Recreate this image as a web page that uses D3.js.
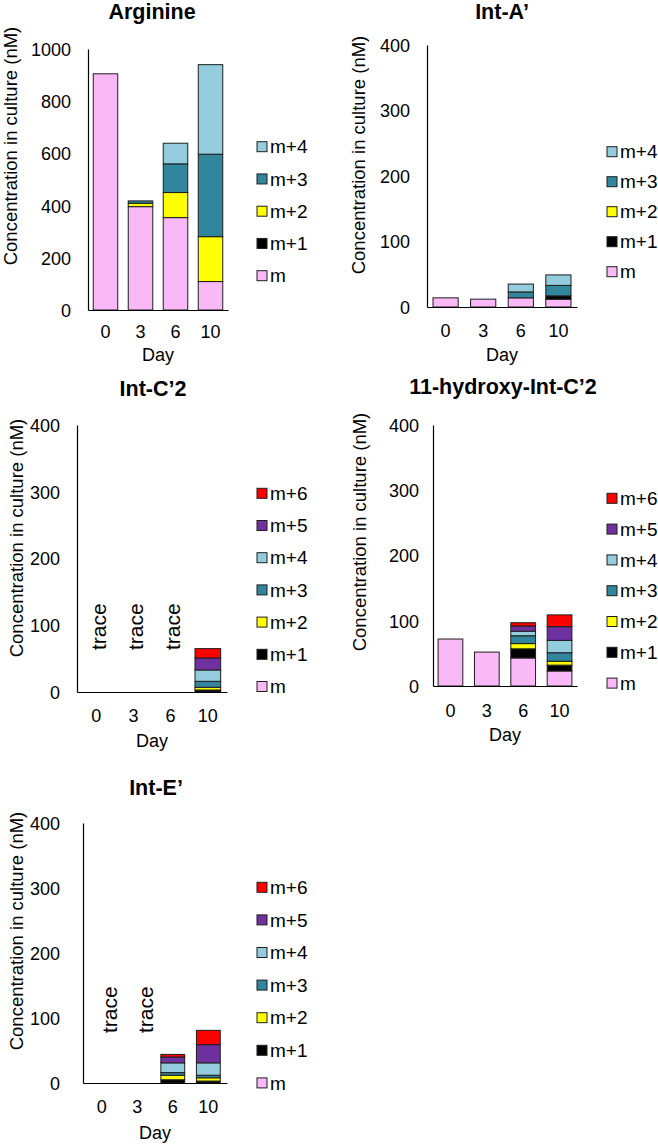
<!DOCTYPE html>
<html>
<head>
<meta charset="utf-8">
<script src="https://cdn.jsdelivr.net/npm/d3@7"></script>
<style>
  html, body { margin: 0; padding: 0; background: #fff; }
  svg { display: block; }
  text { font-family: "Liberation Sans", Arial, Helvetica, sans-serif; fill: #000; }
</style>
</head>
<body>
<svg id="chart" width="658" height="1145"></svg>
<script>
// ---------------- DATA ----------------
const titles = ["Arginine", "Int-A’", "Int-C’2", "11-hydroxy-Int-C’2", "Int-E’"];
const days = ["0", "3", "6", "10"];
const seriesNames = ["m", "m+1", "m+2", "m+3", "m+4", "m+5", "m+6"];
// rows = days, columns = isotopologues (m, m+1, m+2, ...)
const arginine = [
  [905, 0, 0, 0, 0],
  [396, 0, 13, 9, 0],
  [354, 0, 96, 110, 79],
  [109, 0, 172, 316, 343]
];
const intA = [
  [14, 0, 0, 0, 0],
  [12, 0, 0, 0, 0],
  [14, 0, 0, 9, 12],
  [12, 5, 0, 16, 16]
];
const intC2 = [
  [0, 0, 0, 0, 0, 0, 0],
  [0, 0, 0, 0, 0, 0, 0],
  [0, 0, 0, 0, 0, 0, 0],
  [0, 3, 4, 9, 17, 18, 14]
];
const hydroxyIntC2 = [
  [72, 0, 0, 0, 0, 0, 0],
  [52, 0, 0, 0, 0, 0, 0],
  [43, 14, 8, 12, 7, 8, 5],
  [23, 9, 6, 13, 19, 21, 18]
];
const intE = [
  [0, 0, 0, 0, 0, 0, 0],
  [0, 0, 0, 0, 0, 0, 0],
  [0, 5, 7, 4, 15, 9, 4],
  [0, 3, 5, 4, 19, 28, 22]
];
const traceIntC2 = ["0", "3", "6"];
const traceIntE = ["0", "3"];
const arginineTicks = [0, 200, 400, 600, 800, 1000];
const smallTicks = [0, 100, 200, 300, 400];
const yLabelText = "Concentration in culture (nM)";
const xLabelText = "Day";
const traceText = "trace";

// ---------------- STYLE / LAYOUT ----------------
const seriesColors = ["#F9B9F7", "#000000", "#FFFF00", "#31859C", "#93CDDD", "#7030A0", "#FF0000"];

const panels = [
  { data: arginine, title: titles[0], n: 5, ticks: arginineTicks, yMax: 1000, trace: [],
    x0: 88, x1: 228, yTop: 49, yBot: 310, pIn: 0.3, pOut: 0.15,
    titleX: 152, titleY: 19, tickPad: 17, xTickBase: 338, dayY: 361,
    yLabX: 11, yLabY: 146, legX: 257, legTop: 146.7, legStep: 32.25, traceDx: 0, traceUp: 0 },
  { data: intA, title: titles[1], n: 5, ticks: smallTicks, yMax: 400, trace: [],
    x0: 427, x1: 577, yTop: 45, yBot: 307, pIn: 0.33, pOut: 0.16,
    titleX: 502, titleY: 19, tickPad: 17, xTickBase: 337, dayY: 361,
    yLabX: 359, yLabY: 155, legX: 607, legTop: 151.7, legStep: 30, traceDx: 0, traceUp: 0 },
  { data: intC2, title: titles[2], n: 7, ticks: smallTicks, yMax: 400, trace: traceIntC2,
    x0: 77, x1: 227, yTop: 425, yBot: 692, pIn: 0.31, pOut: 0.17,
    titleX: 153, titleY: 396, tickPad: 17, xTickBase: 722, dayY: 747,
    yLabX: 17, yLabY: 538, legX: 257, legTop: 493.3, legStep: 32.2, traceDx: 4, traceUp: 42 },
  { data: hydroxyIntC2, title: titles[3], n: 7, ticks: smallTicks, yMax: 400, trace: [],
    x0: 433, x1: 577, yTop: 425, yBot: 686, pIn: 0.32, pOut: 0.14,
    titleX: 503, titleY: 394, tickPad: 14, xTickBase: 717, dayY: 741,
    yLabX: 360, yLabY: 532, legX: 607, legTop: 498.3, legStep: 30.8, traceDx: 0, traceUp: 0 },
  { data: intE, title: titles[4], n: 7, ticks: smallTicks, yMax: 400, trace: traceIntE,
    x0: 83, x1: 227, yTop: 823, yBot: 1083, pIn: 0.33, pOut: 0.19,
    titleX: 156, titleY: 795, tickPad: 23, xTickBase: 1113, dayY: 1139,
    yLabX: 17, yLabY: 931, legX: 257, legTop: 887.3, legStep: 32.6, traceDx: 10, traceUp: 50 }
];

const svg = d3.select("#chart");

panels.forEach(p => {
  const g = svg.append("g");
  const keys = seriesNames.slice(0, p.n);
  const rows = days.map((d, i) => {
    const r = { day: d };
    keys.forEach((k, j) => { r[k] = p.data[i][j] || 0; });
    return r;
  });
  const x = d3.scaleBand().domain(days).range([p.x0, p.x1])
    .paddingInner(p.pIn).paddingOuter(p.pOut);
  const y = d3.scaleLinear().domain([0, p.yMax]).range([p.yBot, p.yTop]);
  const stacked = d3.stack().keys(keys)(rows);

  // bars
  stacked.forEach((layer, li) => {
    g.append("g").selectAll("rect")
      .data(layer.filter(d => d[1] - d[0] > 0))
      .join("rect")
      .attr("x", d => x(d.data.day))
      .attr("width", x.bandwidth())
      .attr("y", d => y(d[1]))
      .attr("height", d => y(d[0]) - y(d[1]))
      .attr("fill", seriesColors[li])
      .attr("stroke", "#1e1e1e")
      .attr("stroke-width", 1);
  });

  // y axis
  const ya = g.append("g").attr("transform", `translate(${p.x0},0)`)
    .call(d3.axisLeft(y).tickValues(p.ticks).tickSize(0).tickPadding(p.tickPad).tickFormat(d3.format("d")));
  ya.select(".domain").attr("stroke", "#000").attr("stroke-width", 1.2);
  ya.selectAll("text").attr("font-size", 18).attr("font-family", null).attr("dy", "0.36em");

  // x axis
  const xa = g.append("g").attr("transform", `translate(0,${p.yBot})`)
    .call(d3.axisBottom(x).tickSize(0).tickSizeOuter(0));
  xa.select(".domain").attr("stroke", "#000").attr("stroke-width", 1.2);
  xa.selectAll("text").attr("font-size", 18).attr("font-family", null)
    .attr("dy", null).attr("y", p.xTickBase - p.yBot);

  // titles & labels
  g.append("text").attr("x", p.titleX).attr("y", p.titleY)
    .attr("text-anchor", "middle").attr("font-size", 21.5).attr("font-weight", "bold")
    .text(p.title);
  g.append("text").attr("x", (p.x0 + p.x1) / 2).attr("y", p.dayY)
    .attr("text-anchor", "middle").attr("font-size", 18).text(xLabelText);
  g.append("text")
    .attr("transform", `translate(${p.yLabX},${p.yLabY}) rotate(-90)`)
    .attr("text-anchor", "middle").attr("dy", "0.35em").attr("font-size", 18.5)
    .text(yLabelText);

  // trace labels
  p.trace.forEach(d => {
    const cx = x(d) + x.bandwidth() / 2 + p.traceDx;
    g.append("text")
      .attr("transform", `translate(${cx},${p.yBot - p.traceUp}) rotate(-90)`)
      .attr("text-anchor", "start").attr("dy", "0.27em").attr("font-size", 21)
      .text(traceText);
  });

  // legend (top = highest isotopologue)
  const legKeys = keys.slice().reverse();
  legKeys.forEach((k, i) => {
    const cy = p.legTop + i * p.legStep;
    const ci = seriesNames.indexOf(k);
    g.append("rect").attr("x", p.legX).attr("y", cy - 5).attr("width", 10).attr("height", 10)
      .attr("fill", seriesColors[ci]).attr("stroke", "#1e1e1e").attr("stroke-width", 1);
    g.append("text").attr("x", p.legX + 13).attr("y", cy).attr("dy", "0.35em")
      .attr("font-size", 19).text(k);
  });
});
</script>
</body>
</html>
